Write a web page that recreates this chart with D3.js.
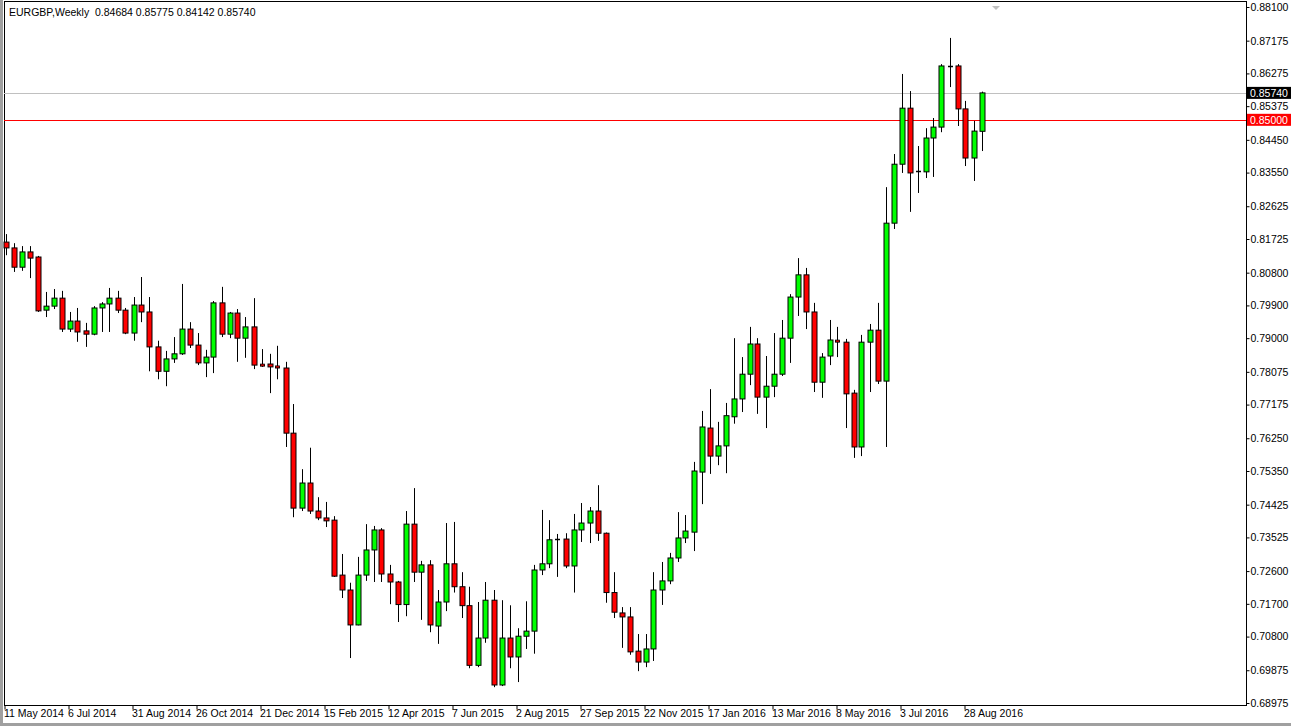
<!DOCTYPE html>
<html><head><meta charset="utf-8">
<script src="https://cdn.jsdelivr.net/npm/d3@7"></script>
<style>body{margin:0;background:#fff;overflow:hidden}text{font-family:"Liberation Sans",Arial,sans-serif}</style>
</head><body><svg id="c" width="1291" height="726"></svg>
<script>
const opens=[0.8164,0.8148,0.8095,0.8137,0.8123,0.7977,0.7988,0.8010,0.7925,0.7947,0.7920,0.7911,0.7983,0.7994,0.8010,0.7977,0.7914,0.7991,0.7972,0.7876,0.7809,0.7843,0.7857,0.7925,0.7881,0.7832,0.7848,0.7997,0.7911,0.7969,0.7900,0.7931,0.7826,0.7829,0.7821,0.7818,0.7639,0.7433,0.7502,0.7425,0.7406,0.7400,0.7249,0.7208,0.7112,0.7249,0.7318,0.7373,0.7252,0.7230,0.7168,0.7389,0.7257,0.7277,0.7109,0.7175,0.7280,0.7217,0.7165,0.7001,0.7076,0.7180,0.6947,0.7076,0.7024,0.7081,0.7095,0.7263,0.7280,0.7346,0.7348,0.7274,0.7373,0.7392,0.7425,0.7364,0.7201,0.7145,0.7134,0.7040,0.7010,0.7046,0.7208,0.7233,0.7296,0.7351,0.7367,0.7532,0.7653,0.7576,0.7604,0.7684,0.7733,0.7801,0.7884,0.7738,0.7768,0.7801,0.7900,0.8013,0.8074,0.7972,0.7779,0.7851,0.7892,0.7889,0.7749,0.7601,0.7889,0.7922,0.7782,0.8216,0.8378,0.8532,0.8357,0.8357,0.8450,0.8480,0.8648,0.8648,0.8530,0.8395,0.84684];
const highs=[0.8186,0.8161,0.8153,0.8153,0.8126,0.8027,0.8035,0.8030,0.7972,0.7983,0.7942,0.7988,0.7999,0.8038,0.8030,0.7983,0.8013,0.8068,0.8013,0.7893,0.7865,0.7903,0.8049,0.7944,0.7914,0.7868,0.8002,0.8041,0.7972,0.7980,0.7958,0.8010,0.7870,0.7857,0.7879,0.7835,0.7719,0.7540,0.7599,0.7463,0.7450,0.7411,0.7307,0.7228,0.7299,0.7389,0.7384,0.7378,0.7277,0.7233,0.7425,0.7488,0.7288,0.7290,0.7208,0.7392,0.7395,0.7257,0.7217,0.7175,0.7230,0.7208,0.7180,0.7166,0.7103,0.7177,0.7277,0.7428,0.7400,0.7362,0.7364,0.7417,0.7447,0.7436,0.7496,0.7366,0.7257,0.7161,0.7161,0.7087,0.7087,0.7257,0.7285,0.7310,0.7422,0.7414,0.7560,0.7700,0.7760,0.7670,0.7722,0.7900,0.7848,0.7931,0.7900,0.7851,0.7914,0.7950,0.8021,0.8120,0.8093,0.7997,0.7859,0.7950,0.7931,0.7898,0.7758,0.7909,0.7939,0.7997,0.8315,0.8406,0.8626,0.8579,0.8428,0.8477,0.8505,0.8653,0.8725,0.8653,0.8552,0.8497,0.85775];
const lows=[0.8128,0.8082,0.8085,0.8065,0.7972,0.7958,0.7980,0.7917,0.7917,0.7890,0.7876,0.7908,0.7917,0.7917,0.7969,0.7911,0.7893,0.7944,0.7809,0.7787,0.7768,0.7832,0.7854,0.7873,0.7826,0.7793,0.7804,0.7903,0.7900,0.7835,0.7846,0.7815,0.7821,0.7749,0.7787,0.7601,0.7408,0.7425,0.7417,0.7400,0.7381,0.7244,0.7186,0.7021,0.7111,0.7233,0.7230,0.7230,0.7169,0.7120,0.7136,0.7230,0.7126,0.7092,0.7060,0.7150,0.7201,0.7131,0.6993,0.6996,0.7063,0.6941,0.6944,0.6993,0.6955,0.7046,0.7033,0.7249,0.7268,0.7244,0.7268,0.7201,0.7340,0.7337,0.7343,0.7173,0.7131,0.7049,0.7030,0.6985,0.6996,0.7013,0.7167,0.7224,0.7285,0.7337,0.7315,0.7444,0.7527,0.7551,0.7529,0.7665,0.7697,0.7771,0.7692,0.7653,0.7738,0.7796,0.7832,0.7961,0.7925,0.7752,0.7736,0.7826,0.7848,0.7653,0.7571,0.7576,0.7752,0.7774,0.7601,0.8200,0.8354,0.8247,0.8299,0.8340,0.8343,0.8466,0.8590,0.8483,0.8373,0.8332,0.84142];
const closes=[0.8148,0.8095,0.8137,0.8120,0.7975,0.7988,0.8010,0.7925,0.7947,0.7917,0.7911,0.7983,0.7994,0.8010,0.7977,0.7914,0.7991,0.7972,0.7876,0.7809,0.7843,0.7857,0.7925,0.7881,0.7832,0.7848,0.7997,0.7911,0.7969,0.7900,0.7931,0.7826,0.7823,0.7821,0.7818,0.7639,0.7433,0.7502,0.7425,0.7406,0.7398,0.7246,0.7208,0.7112,0.7249,0.7318,0.7373,0.7252,0.7230,0.7168,0.7389,0.7257,0.7277,0.7112,0.7175,0.7280,0.7217,0.7165,0.7001,0.7076,0.7180,0.6947,0.7076,0.7024,0.7081,0.7095,0.7263,0.7280,0.7346,0.7347,0.7274,0.7373,0.7392,0.7425,0.7364,0.7201,0.7147,0.7134,0.7038,0.7010,0.7046,0.7208,0.7233,0.7296,0.7351,0.7370,0.7535,0.7656,0.7576,0.7604,0.7687,0.7733,0.7801,0.7884,0.7738,0.7768,0.7801,0.7900,0.8013,0.8074,0.7972,0.7779,0.7848,0.7895,0.7889,0.7747,0.7601,0.7889,0.7922,0.7782,0.8216,0.8378,0.8532,0.8354,0.8359,0.8450,0.8480,0.8648,0.8649,0.8530,0.8395,0.8469,0.85740];
const dateLabels=["11 May 2014","6 Jul 2014","31 Aug 2014","26 Oct 2014","21 Dec 2014","15 Feb 2015","12 Apr 2015","7 Jun 2015","2 Aug 2015","27 Sep 2015","22 Nov 2015","17 Jan 2016","13 Mar 2016","8 May 2016","3 Jul 2016","28 Aug 2016"];
const dateIdx=[0,8,16,24,32,40,48,56,64,72,80,88,96,104,112,120];
const priceTicks=[0.88100,0.87175,0.86275,0.85375,0.84450,0.83550,0.82625,0.81725,0.80800,0.79900,0.79000,0.78075,0.77175,0.76250,0.75350,0.74425,0.73525,0.72600,0.71700,0.70800,0.69875,0.68975];
const bidLine=0.85740, levelLine=0.85000;
const header="EURGBP,Weekly  0.84684 0.85775 0.84142 0.85740";

const F="'Liberation Sans',Arial,sans-serif";
const svg=d3.select("#c");
const L=4,R=1246,T=1,B=705;
const x=d3.scaleLinear().domain([0,122]).range([5.5,981.5]);
const y=d3.scaleLinear().domain([0.68975,0.88100]).range([703,7]);
svg.append("rect").attr("x",0).attr("y",0).attr("width",1291).attr("height",726).attr("fill","#fff");
svg.append("rect").attr("x",0).attr("y",0).attr("width",3).attr("height",726).attr("fill","#a0a0a0");
svg.append("rect").attr("x",0).attr("y",723).attr("width",1291).attr("height",3).attr("fill","#a0a0a0");
svg.append("rect").attr("x",L+0.5).attr("y",T+0.5).attr("width",R-L).attr("height",B-T).attr("fill","none").attr("stroke","#000");
svg.append("line").attr("x1",L).attr("x2",R).attr("y1",Math.round(y(bidLine))+0.5).attr("y2",Math.round(y(bidLine))+0.5).attr("stroke","#c0c0c0");
svg.append("line").attr("x1",L).attr("x2",R).attr("y1",Math.round(y(levelLine))+0.5).attr("y2",Math.round(y(levelLine))+0.5).attr("stroke","#ff0000");
const data=opens.map((o,i)=>({i,o,h:highs[i],l:lows[i],c:closes[i]}));
const g=svg.append("g");
data.forEach(d=>{
  const cx=Math.round(x(d.i))+0.5;
  g.append("line").attr("x1",cx).attr("x2",cx).attr("y1",y(d.h)).attr("y2",y(d.l)).attr("stroke","#000");
  const top=y(Math.max(d.o,d.c)),bot=y(Math.min(d.o,d.c));
  if(bot-top<1.5){
    g.append("line").attr("x1",cx-2.5).attr("x2",cx+2.5).attr("y1",Math.round(top)+0.5).attr("y2",Math.round(top)+0.5).attr("stroke","#000").attr("stroke-width",1.5);
    if(d.c<d.o) g.append("rect").attr("x",cx-2).attr("y",top-1).attr("width",4).attr("height",2).attr("fill","#ff0000").attr("stroke","#000").attr("stroke-width",0.8);
  } else {
    g.append("rect").attr("x",cx-2.5).attr("y",top).attr("width",5).attr("height",bot-top)
     .attr("fill",d.c>=d.o?"#00ff00":"#ff0000").attr("stroke","#000").attr("stroke-width",1);
  }
});
svg.append("path").attr("d","M992,6 L1000,6 L996,10 Z").attr("fill","#c0c0c0");
const ya=svg.append("g").attr("transform",`translate(${R+0.5},0)`).call(d3.axisRight(y).tickValues(priceTicks).tickSize(3).tickFormat(d3.format(".5f")));
ya.select(".domain").remove();
ya.selectAll("text").attr("x",4).attr("font-size",10.5).attr("fill","#000").style("font-family",F);
ya.selectAll("line").attr("stroke","#000");
[[bidLine,"#000"],[levelLine,"#ff0000"]].forEach(([v,col])=>{
  const yy=y(v);
  svg.append("rect").attr("x",R+1).attr("y",yy-6).attr("width",44).attr("height",12).attr("fill",col);
  svg.append("text").attr("x",R+4).attr("y",yy+4).attr("font-size",10.5).attr("fill","#fff").style("font-family",F).text(d3.format(".5f")(v));
});
const xa=svg.append("g").attr("transform",`translate(0,${B+0.5})`).call(d3.axisBottom(x).tickValues(dateIdx).tickSize(4).tickFormat((d,k)=>dateLabels[k]));
xa.select(".domain").remove();
xa.selectAll("line").attr("stroke","#000").attr("transform","translate(-1,0)");
xa.selectAll("text").attr("text-anchor","start").attr("x",-2).attr("y",4).attr("dy","0.71em").attr("font-size",10.5).attr("fill","#000").style("font-family",F);
svg.append("text").attr("x",9).attr("y",16).attr("font-size",10.5).attr("fill","#000").style("font-family",F).attr("xml:space","preserve").text(header);
</script></body></html>
